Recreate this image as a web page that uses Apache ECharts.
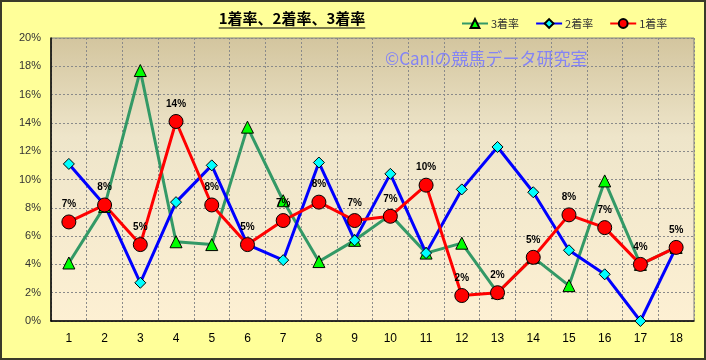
<!DOCTYPE html>
<html><head><meta charset="utf-8">
<script src="https://cdn.jsdelivr.net/npm/echarts@6/dist/echarts.min.js"></script>
<style>html,body{margin:0;padding:0;background:#FFFF99;}#c{width:706px;height:360px;}</style>
</head><body><div id="c"></div>
<script>
const categories = ['1','2','3','4','5','6','7','8','9','10','11','12','13','14','15','16','17','18'];
const rate3 = [4.1, 8.1, 17.7, 5.6, 5.4, 13.7, 8.5, 4.2, 5.7, 7.5, 4.8, 5.5, 2.0, 4.5, 2.5, 9.9, 4.0, 5.2];
const rate2 = [11.1, 8.2, 2.7, 8.4, 11.0, 5.4, 4.3, 11.2, 5.7, 10.4, 4.8, 9.3, 12.3, 9.1, 5.0, 3.3, 0.0, 5.2];
const rate1 = [7.0, 8.2, 5.4, 14.1, 8.2, 5.4, 7.1, 8.4, 7.1, 7.4, 9.6, 1.8, 2.0, 4.5, 7.5, 6.6, 4.0, 5.2];
const yTicks = [0, 2, 4, 6, 8, 10, 12, 14, 16, 18, 20];
const titleText = '1着率、2着率、3着率';
const watermark = '©Caniの競馬データ研究室';

const titleFont = 'bold 15px "Noto Sans CJK JP"';
const ctx = document.createElement('canvas').getContext('2d');
ctx.font = titleFont;
const tw = ctx.measureText(titleText).width;
const tcx = 292;

const chart = echarts.init(document.getElementById('c'));
chart.setOption({
  backgroundColor: '#FFFF99',
  animation: false,
  grid: {
    left: 51, right: 12, top: 38, bottom: 39, show: true,
    borderColor: '#808080', borderWidth: 1,
    backgroundColor: new echarts.graphic.LinearGradient(0, 0, 0, 1, [
      {offset: 0, color: '#D3C59E'},
      {offset: 0.35, color: '#EEE5CA'},
      {offset: 1, color: '#FDF0D3'}
    ])
  },
  legend: {
    left: 456, top: 13, itemWidth: 26, itemHeight: 11, itemGap: 16,
    textStyle: {fontSize: 11, color: '#333', fontFamily: '"Noto Sans CJK JP"', padding: [0,0,0,-2]},
    data: ['3着率', '2着率', '1着率']
  },
  xAxis: {
    type: 'category', data: categories, boundaryGap: true,
    axisLine: {lineStyle: {color: '#000', width: 1.5}},
    axisTick: {show: false},
    axisLabel: {fontSize: 12, color: '#000', margin: 12, fontFamily: 'Liberation Sans'},
    splitLine: {show: true, lineStyle: {color: '#8a8a8a', type: [2, 2], width: 1}}
  },
  yAxis: {
    type: 'value', min: yTicks[0], max: yTicks[yTicks.length - 1], interval: 2,
    axisLine: {show: true, lineStyle: {color: '#000', width: 1.5}},
    axisTick: {show: false},
    axisLabel: {fontSize: 11, color: '#333', margin: 10, fontFamily: 'Liberation Sans', formatter: '{value}%'},
    splitLine: {show: true, lineStyle: {color: '#8a8a8a', type: [2, 2], width: 1}}
  },
  series: [
    {
      name: '3着率', type: 'line', data: rate3,
      lineStyle: {color: '#339966', width: 3},
      itemStyle: {color: '#00FF00', borderColor: '#000', borderWidth: 1},
      symbol: 'triangle', symbolSize: 12, showAllSymbol: true
    },
    {
      name: '2着率', type: 'line', data: rate2,
      lineStyle: {color: '#0000FF', width: 3},
      itemStyle: {color: '#00FFFF', borderColor: '#000', borderWidth: 1},
      symbol: 'diamond', symbolSize: 11, showAllSymbol: true
    },
    {
      name: '1着率', type: 'line', data: rate1,
      lineStyle: {color: '#FF0000', width: 3},
      itemStyle: {color: '#FF0000', borderColor: '#000', borderWidth: 1},
      symbol: 'circle', symbolSize: 14, showAllSymbol: true,
      label: {
        show: true, position: 'top', distance: 5,
        fontSize: 10, fontWeight: 'bold', color: '#000', fontFamily: 'Liberation Sans',
        formatter: p => Math.round(p.value) + '%'
      }
    }
  ],
  graphic: [
    {type: 'rect', shape: {x: 1, y: 1, width: 704, height: 358}, style: {fill: 'none', stroke: '#3a3a2a', lineWidth: 2}, z: 100, silent: true},
    {type: 'text', x: tcx, y: 18, style: {text: titleText, font: titleFont, fill: '#000', textAlign: 'center', textVerticalAlign: 'middle'}},
    {type: 'line', shape: {x1: tcx - tw / 2, y1: 28, x2: tcx + tw / 2, y2: 28}, style: {stroke: '#000', lineWidth: 1.2}},
    {type: 'text', x: 385, y: 59, z: 5, style: {text: watermark, font: '17px "Noto Sans CJK JP"', fill: '#8484F4', textVerticalAlign: 'middle'}}
  ]
});
</script></body></html>
